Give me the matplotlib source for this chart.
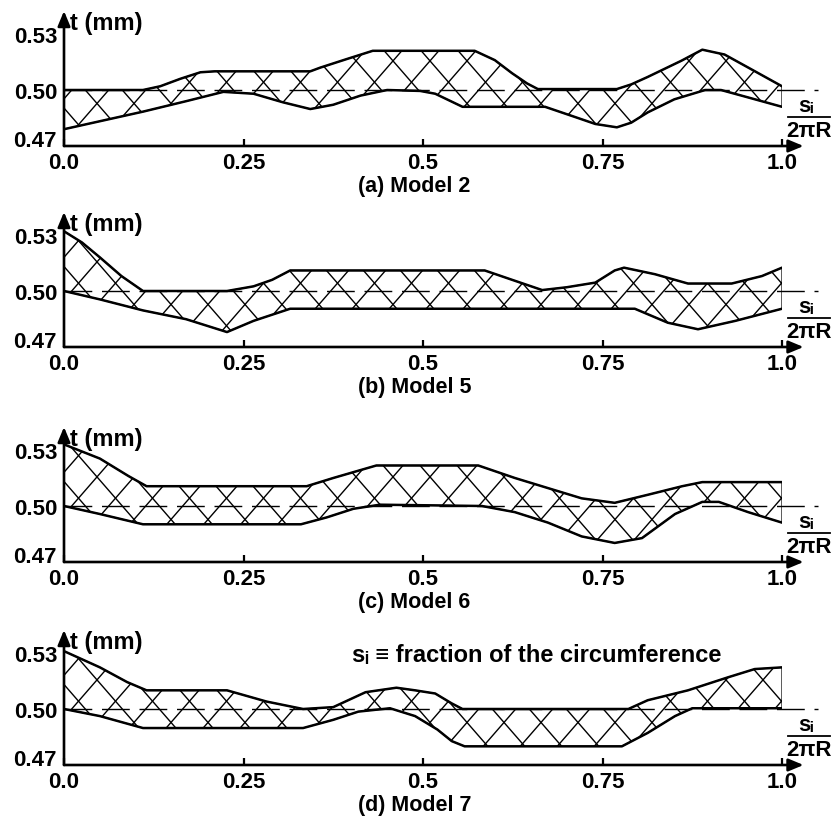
import numpy as np
import matplotlib
matplotlib.use("Agg")
import matplotlib.pyplot as plt
from matplotlib.collections import LineCollection

plt.rcParams['font.family'] = ['Liberation Sans', 'DejaVu Sans']
plt.rcParams['font.weight'] = 'bold'

# ---------------- data ----------------
x_ticks = [0.0, 0.25, 0.5, 0.75, 1.0]
x_tick_labels = ['0.0', '0.25', '0.5', '0.75', '1.0']
y_ticks = [0.47, 0.50, 0.53]
y_tick_labels = ['0.47', '0.50', '0.53']
panel_titles = ['(a) Model 2', '(b) Model 5', '(c) Model 6', '(d) Model 7']
nominal_t = 0.50
y_label = 't (mm)'
x_label_num = 'sᵢ'
x_label_den = '2πR'
note_text = 'sᵢ ≡ fraction of the circumference'

# Model 2
m2_upper_s = [0.0, 0.11, 0.134, 0.162, 0.19, 0.21, 0.343, 0.357, 0.394, 0.43, 0.572, 0.60, 0.624, 0.645, 0.66, 0.77, 0.79, 0.813, 0.86, 0.889, 0.92, 0.953, 1.0]
m2_upper_t = [0.500, 0.500, 0.502, 0.506, 0.5095, 0.510, 0.510, 0.512, 0.5166, 0.521, 0.521, 0.516, 0.509, 0.5035, 0.5005, 0.5005, 0.503, 0.507, 0.5157, 0.5216, 0.519, 0.512, 0.502]
m2_lower_s = [0.0, 0.11, 0.17, 0.222, 0.264, 0.305, 0.343, 0.375, 0.413, 0.45, 0.496, 0.517, 0.555, 0.67, 0.712, 0.74, 0.77, 0.79, 0.813, 0.85, 0.893, 0.915, 0.953, 1.0]
m2_lower_t = [0.479, 0.4884, 0.494, 0.499, 0.498, 0.4934, 0.4898, 0.4921, 0.497, 0.500, 0.4995, 0.498, 0.491, 0.491, 0.4855, 0.4818, 0.480, 0.4825, 0.488, 0.495, 0.500, 0.500, 0.496, 0.491]

# Model 5
m5_upper_s = [0.0, 0.025, 0.05, 0.08, 0.11, 0.227, 0.264, 0.29, 0.315, 0.586, 0.624, 0.666, 0.70, 0.74, 0.767, 0.78, 0.823, 0.869, 0.93, 0.972, 1.0]
m5_upper_t = [0.532, 0.526, 0.518, 0.508, 0.500, 0.500, 0.5025, 0.506, 0.511, 0.511, 0.506, 0.5005, 0.502, 0.5045, 0.511, 0.5125, 0.509, 0.504, 0.504, 0.508, 0.5125]
m5_lower_s = [0.0, 0.05, 0.11, 0.17, 0.227, 0.264, 0.315, 0.795, 0.841, 0.883, 0.935, 1.0]
m5_lower_t = [0.500, 0.4955, 0.4896, 0.4849, 0.478, 0.484, 0.4905, 0.4905, 0.483, 0.4795, 0.484, 0.4905]

# Model 6
m6_upper_s = [0.0, 0.05, 0.09, 0.115, 0.338, 0.375, 0.435, 0.577, 0.628, 0.674, 0.721, 0.767, 0.813, 0.861, 0.889, 1.0]
m6_upper_t = [0.533, 0.5254, 0.516, 0.5106, 0.5106, 0.515, 0.5217, 0.5217, 0.515, 0.5096, 0.5041, 0.5017, 0.506, 0.5106, 0.5128, 0.5128]
m6_lower_s = [0.0, 0.05, 0.11, 0.33, 0.366, 0.403, 0.44, 0.582, 0.628, 0.674, 0.721, 0.767, 0.805, 0.851, 0.889, 0.912, 0.953, 1.0]
m6_lower_t = [0.500, 0.4957, 0.4902, 0.4902, 0.4939, 0.4985, 0.5007, 0.500, 0.4967, 0.4911, 0.4837, 0.4802, 0.4828, 0.4957, 0.5022, 0.5022, 0.4967, 0.4911]

# Model 7
m7_upper_s = [0.0, 0.05, 0.088, 0.115, 0.227, 0.282, 0.333, 0.375, 0.42, 0.463, 0.489, 0.517, 0.54, 0.555, 0.786, 0.813, 0.869, 0.925, 0.962, 1.0]
m7_upper_t = [0.531, 0.5223, 0.5144, 0.510, 0.510, 0.504, 0.500, 0.501, 0.509, 0.5114, 0.510, 0.5083, 0.503, 0.500, 0.500, 0.5047, 0.510, 0.517, 0.5214, 0.5223]
m7_lower_s = [0.0, 0.05, 0.11, 0.333, 0.375, 0.41, 0.454, 0.489, 0.52, 0.54, 0.558, 0.777, 0.813, 0.851, 0.875, 1.0]
m7_lower_t = [0.500, 0.4962, 0.4898, 0.4898, 0.4942, 0.4986, 0.5004, 0.4962, 0.489, 0.4828, 0.480, 0.480, 0.4872, 0.4962, 0.5004, 0.5004]

models = [
    (m2_upper_s, m2_upper_t, m2_lower_s, m2_lower_t),
    (m5_upper_s, m5_upper_t, m5_lower_s, m5_lower_t),
    (m6_upper_s, m6_upper_t, m6_lower_s, m6_lower_t),
    (m7_upper_s, m7_upper_t, m7_lower_s, m7_lower_t),
]

# ---------------- layout ----------------
FW, FH = 835, 820
fig = plt.figure(figsize=(FW / 100, FH / 100), dpi=100)
AX_LEFT, AX_W, AX_H = 64, 718, 135
PX_PER_T = 1866.7            # pixels per mm of thickness
axis_rows = [147, 348, 563, 766]
FS = 16
t_min = 0.47
t_top = t_min + AX_H / PX_PER_T

for i, (us, ut, ls, lt) in enumerate(models):
    ax = fig.add_axes([AX_LEFT / FW, 1 - axis_rows[i] / FH, AX_W / FW, AX_H / FH])
    ax.set_xlim(0, 1.0)
    ax.set_ylim(t_min, t_top)
    for sp in ax.spines.values():
        sp.set_visible(False)
    ax.patch.set_visible(False)

    # band polygon
    poly_s = list(us) + list(ls)[::-1]
    poly_t = list(ut) + list(lt)[::-1]
    patch = ax.fill(poly_s, poly_t, facecolor='white', edgecolor='black', lw=0.9, zorder=2)[0]

    # cross hatching clipped to the band (pixel-space diagonals)
    spacing, slope = 37.0, 1.15
    segs = []
    for sign in (1, -1):
        for c in np.arange(-300, AX_W + 300, spacing):
            x0, x1 = c - 250, c + 250
            y0, y1 = sign * slope * (x0 - c), sign * slope * (x1 - c)
            segs.append([(x0 / AX_W, t_min + y0 / PX_PER_T), (x1 / AX_W, t_min + y1 / PX_PER_T)])
    lc = LineCollection(segs, colors='black', linewidths=1.0, zorder=3)
    ax.add_collection(lc)
    lc.set_clip_path(patch)

    # nominal thickness dashed line
    ax.plot([0, 1.05], [nominal_t, nominal_t], color='black', lw=1.0,
            ls=(0, (20, 7)), zorder=4, clip_on=False)

    # band edges
    ax.plot(us, ut, color='black', lw=1.8, zorder=5, solid_capstyle='round', solid_joinstyle='round')
    ax.plot(ls, lt, color='black', lw=1.8, zorder=5, solid_capstyle='round', solid_joinstyle='round')

    # axes with arrows
    arrow = dict(arrowstyle='-|>,head_length=0.6,head_width=0.25', lw=1.9, color='black',
                 shrinkA=0, shrinkB=0, mutation_scale=15)
    ax.annotate('', xy=(1.03, t_min), xytext=(0, t_min), arrowprops=arrow,
                annotation_clip=False, zorder=6)
    ax.annotate('', xy=(0, t_top), xytext=(0, t_min), arrowprops=arrow,
                annotation_clip=False, zorder=6)

    ax.set_xticks(x_ticks, x_tick_labels)
    ax.set_yticks(y_ticks, y_tick_labels)
    ax.tick_params(axis='x', direction='in', length=5, width=1.6, pad=4, labelsize=FS)
    ax.tick_params(axis='y', length=0, pad=5, labelsize=FS)
    ax.get_yticklabels()[0].set_verticalalignment('baseline')

    tx = ax.get_xaxis_transform()
    ax.text(0.009, 0.915, y_label, transform=tx, ha='left', va='center', fontsize=17)
    ax.text(1.033, 0.30, x_label_num, transform=tx, ha='center', va='center', fontsize=FS)
    ax.plot([1.008, 1.067], [0.215, 0.215], color='black', lw=1.3, transform=tx, clip_on=False)
    ax.text(1.037, 0.115, x_label_den, transform=tx, ha='center', va='center', fontsize=FS)
    ax.text(0.488, -0.295, panel_titles[i], transform=tx, ha='center', va='center', fontsize=15.5)
    if i == 3:
        ax.text(0.401, 0.82, note_text, transform=tx, ha='left', va='center', fontsize=17)

fig.savefig('out.png', dpi=100)
